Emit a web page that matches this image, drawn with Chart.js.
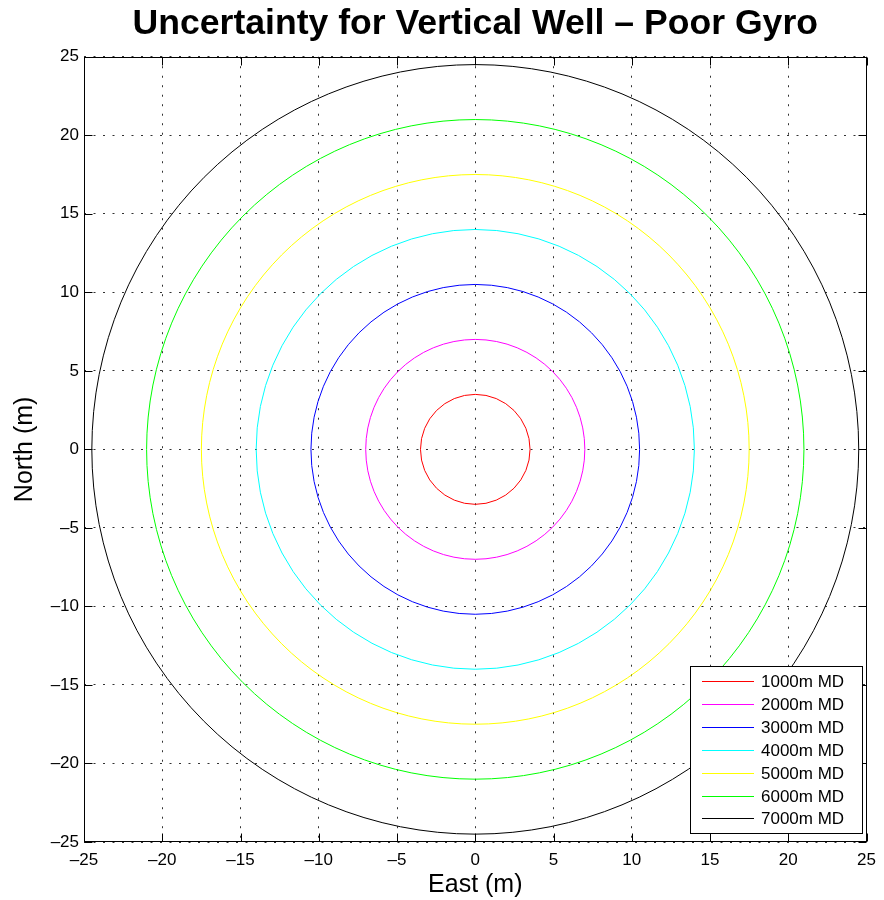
<!DOCTYPE html>
<html>
<head>
<meta charset="utf-8">
<script src="https://cdn.jsdelivr.net/npm/chart.js@4/dist/chart.umd.min.js"></script>
<style>
html,body{margin:0;padding:0;background:#fff;}
#wrap{width:884px;height:900px;}
</style>
</head>
<body>
<div id="wrap"><canvas id="c" width="884" height="900"></canvas></div>
<script>
// ---- data ----
const seriesLabels = ['1000m MD', '2000m MD', '3000m MD', '4000m MD', '5000m MD', '6000m MD', '7000m MD'];
const radii = [3.5, 7, 10.5, 14, 17.5, 21, 24.5];          // uncertainty radius (m)
const centerEast = [0, 0, 0, 0, 0, 0, 0];
const centerNorth = [0, 0, 0, 0, 0, 0, 0];
const seriesColors = ['#ff0000', '#ff00ff', '#0000ff', '#00ffff', '#ffff00', '#00ff00', '#000000'];
const xTicks = [-25, -20, -15, -10, -5, 0, 5, 10, 15, 20, 25];
const yTicks = [-25, -20, -15, -10, -5, 0, 5, 10, 15, 20, 25];

const FONT = "'Liberation Sans', Arial, Helvetica, sans-serif";
const fmt = v => (v < 0 ? '\u2013' + Math.abs(v) : String(v));

// circles drawn through the chart's own scales
const circlePlugin = {
  id: 'circles',
  afterDatasetsDraw(chart) {
    const {ctx, chartArea, scales: {x, y}} = chart;
    ctx.save();
    ctx.beginPath();
    ctx.rect(chartArea.left, chartArea.top, chartArea.right - chartArea.left, chartArea.bottom - chartArea.top);
    ctx.clip();
    chart.data.datasets.forEach((ds, i) => {
      const cx = x.getPixelForValue(centerEast[i]);
      const cy = y.getPixelForValue(centerNorth[i]);
      const rx = Math.abs(x.getPixelForValue(centerEast[i] + radii[i]) - cx);
      const ry = Math.abs(y.getPixelForValue(centerNorth[i] + radii[i]) - cy);
      ctx.beginPath();
      ctx.ellipse(cx, cy, rx, ry, 0, 0, Math.PI * 2);
      ctx.strokeStyle = ds.borderColor;
      ctx.lineWidth = 1;
      ctx.stroke();
    });
    ctx.restore();
  }
};

// MATLAB-like frame with inward ticks + boxed legend
const framePlugin = {
  id: 'frame',
  afterDraw(chart) {
    const {ctx, chartArea, scales: {x, y}} = chart;
    const L = Math.round(chartArea.left) + 0.5, R = Math.round(chartArea.right) - 0.5;
    const T = Math.round(chartArea.top) + 0.5, B = Math.round(chartArea.bottom) - 0.5;
    ctx.save();
    ctx.strokeStyle = '#000';
    ctx.lineWidth = 1;
    ctx.setLineDash([]);
    ctx.strokeRect(L, T, R - L, B - T);
    const tl = 8;
    ctx.beginPath();
    xTicks.forEach(v => {
      const px = Math.round(x.getPixelForValue(v)) + 0.5;
      ctx.moveTo(px, B); ctx.lineTo(px, B - tl);
      ctx.moveTo(px, T); ctx.lineTo(px, T + tl);
    });
    yTicks.forEach(v => {
      const py = Math.round(y.getPixelForValue(v)) + 0.5;
      ctx.moveTo(L, py); ctx.lineTo(L + tl, py);
      ctx.moveTo(R, py); ctx.lineTo(R - tl, py);
    });
    ctx.stroke();

    // legend box
    const bx = 690.5, by = 666.5, bw = 172, bh = 167;
    ctx.fillStyle = '#fff';
    ctx.fillRect(bx, by, bw, bh);
    ctx.strokeRect(bx, by, bw, bh);
    ctx.font = '17px ' + FONT;
    ctx.textBaseline = 'middle';
    ctx.textAlign = 'left';
    chart.data.datasets.forEach((ds, i) => {
      const ry = Math.round(681 + i * 22.9) + 0.5;
      ctx.beginPath();
      ctx.moveTo(702, ry); ctx.lineTo(754, ry);
      ctx.strokeStyle = ds.borderColor;
      ctx.stroke();
      ctx.fillStyle = '#000';
      ctx.fillText(ds.label, 761, ry + 1);
    });
    ctx.restore();
  }
};

const datasets = seriesLabels.map((lab, i) => ({
  label: lab,
  data: [{x: centerEast[i], y: centerNorth[i]}],
  borderColor: seriesColors[i],
  backgroundColor: seriesColors[i],
  pointRadius: 0,
  showLine: false
}));

const axisCommon = (ticks) => ({
  type: 'linear',
  min: -25,
  max: 25,
  afterBuildTicks: s => { s.ticks = ticks.map(v => ({value: v})); },
  ticks: {
    autoSkip: false,
    maxRotation: 0,
    color: '#000',
    font: {family: FONT, size: 17},
    callback: v => fmt(v)
  },
  grid: {color: '#333', lineWidth: 1, drawTicks: false},
  border: {display: false, dash: [2, 7.5]}
});

const xScale = Object.assign(axisCommon(xTicks), {
  position: 'bottom',
  title: {display: true, text: 'East (m)', color: '#000', font: {family: FONT, size: 25}, padding: {top: 3, bottom: 0}},
  afterFit: s => { s.height = 58; }
});
xScale.ticks.padding = 8;

const yScale = Object.assign(axisCommon(yTicks), {
  position: 'left',
  title: {display: true, text: 'North (m)', color: '#000', font: {family: FONT, size: 25}, padding: {top: 10, bottom: 0}},
  afterFit: s => { s.width = 84; }
});
yScale.ticks.padding = 5;

new Chart(document.getElementById('c'), {
  type: 'scatter',
  data: {datasets},
  options: {
    responsive: false,
    animation: false,
    devicePixelRatio: 1,
    layout: {padding: {left: 0, right: 13, top: 0, bottom: 0}},
    scales: {x: xScale, y: yScale},
    plugins: {
      legend: {display: false},
      tooltip: {enabled: false},
      title: {
        display: true,
        fullSize: false,
        text: 'Uncertainty for Vertical Well \u2013 Poor Gyro',
        color: '#000',
        font: {family: FONT, size: 35.6, weight: 'bold'},
        padding: {top: 3, bottom: 11}
      }
    }
  },
  plugins: [circlePlugin, framePlugin]
});
</script>
</body>
</html>
